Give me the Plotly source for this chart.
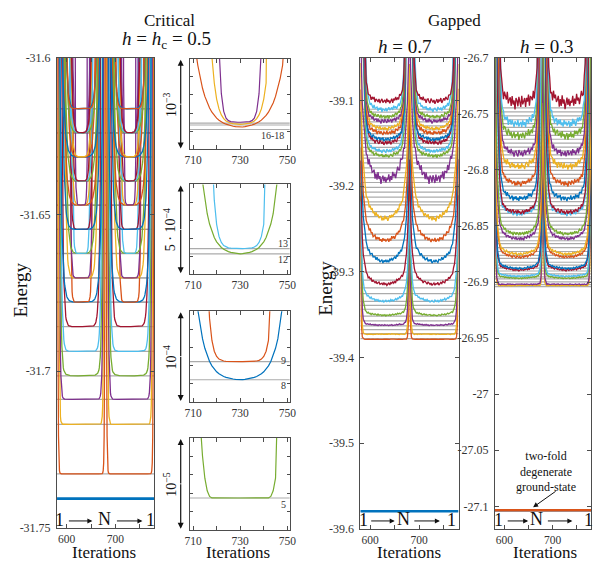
import numpy as np
import plotly.graph_objects as go

W, H = 598, 565
PALETTE = ["#0072BD", "#D95319", "#EDB120", "#7E2F8E", "#77AC30", "#4DBEEE", "#A2142F"]
GRAY = "rgba(150,150,150,0.8)"
SERIF = "Liberation Serif, serif"
AXIS_COLOR = "#4d4d4d"

# ---------------- sweep geometry ----------------
WALLS = [580, 680, 780]          # chain ends reached by the sweep 1 -> N -> 1
HALF = 50.0                      # half a sweep, in iterations

# ---------------- critical chain, h = hc = 0.5 ----------------
crit_E = [-31.7407, -31.7328, -31.7170, -31.7090, -31.7015, -31.6937, -31.6858,
          -31.67800, -31.67798, -31.6703, -31.67028, -31.66250, -31.66247,
          -31.6548, -31.65478, -31.64710, -31.64705, -31.64703,
          -31.6394, -31.63938, -31.63936, -31.6317, -31.63168, -31.63166,
          -31.6240, -31.62398, -31.62396, -31.62394, -31.6163, -31.61628]
crit_dw = [0, 5, 8, 11, 14, 17, 21, 22.3, 32.7, 27, 33, 30.9, 37.1, 34, 25,
           30.4, 37.4, 40.8, 31, 35, 38, 27, 33, 37, 39, 32, 35, 38, 29, 27]
crit_s = [0, 0.8, 1.1, 1.5, 1.9, 2.3, 2.6, 3.8, 1.41, 2.8, 1.5, 3.45, 1.45, 1.8, 3.5,
          4.4, 2.05, 1.04, 4.0, 2.5, 2.0, 4.5, 3.5, 2.5, 2.0, 4.0, 3.0, 2.5, 3.5, 2.5]
crit_resid = {16: 2.5e-5, 17: 0.7e-5, 18: 1.0e-5}
crit_bowl = {5: (5e-8, 38.5, 3.0)}

# zoomed windows around the bottom of the second sweep
inset_levels = [[16, 17, 18], [12, 13], [8, 9], [5]]
inset_span = [1e-3, 5e-4, 1e-4, 1e-5]
inset_floor = [2.19e-4, 1.13e-4, 2.45e-5, 3.46e-6]   # distance of axis bottom below first listed level
inset_scale = ["10<sup>\u22123</sup>", "5 \u00b7 10<sup>\u22124</sup>", "10<sup>\u22124</sup>", "10<sup>\u22125</sup>"]
inset_tags = [["16-18"], ["13", "12"], ["9", "8"], ["5"]]

# ---------------- gapped chain, h = 0.7 ----------------
g7_E = [-39.5795, -39.3790, -39.3733, -39.3631, -39.3517, -39.3358, -39.3164,
        -39.2902, -39.2663, -39.2412, -39.1990, -39.1672, -39.1615, -39.1524,
        -39.1478, -39.1410, -39.1353, -39.1273, -39.1216, -39.1136, -39.1045]
g7_dw = [0, 5, 7, 9, 12, 14, 17, 20, 21, 22, 23, 20, 21, 22, 20, 21, 22, 20, 21, 22, 19]
g7_s = [0, 1.0, 1.3, 1.8, 2.4, 3.0, 3.5, 4.0, 4.2, 4.4, 4.6, 3.0, 3.0, 3.0, 3.0, 3.0, 3.0, 2.8, 2.8, 2.8, 2.5]
g7_noise = [0, 0.0005, 0.001, 0.0015, 0.002, 0.003, 0.004, 0.005, 0.006, 0.007, 0.013,
            0.005, 0.005, 0.006, 0.005, 0.006, 0.005, 0.006, 0.005, 0.006, 0.007]
g7_bowl = [0, 0, 0, 0.001, 0.002, 0.004, 0.006, 0.009, 0.010, 0.012, 0.014,
           0.005, 0.005, 0.005, 0.005, 0.005, 0.005, 0.005, 0.005, 0.005, 0.005]
g7_exact = [-39.5795, -39.3779, -39.3722, -39.3676, -39.3631, -39.3574, -39.3517, -39.3437,
            -39.3392, -39.3346, -39.3255, -39.3187, -39.3096, -39.3004, -39.2902, -39.2811,
            -39.2720, -39.2629, -39.2560, -39.2446, -39.2355, -39.2298, -39.2219, -39.2184,
            -39.2127, -39.2070, -39.2013, -39.1957, -39.1900, -39.1843, -39.1786, -39.1729,
            -39.1672, -39.1638, -39.1592, -39.1547, -39.1501, -39.1467, -39.1433, -39.1387,
            -39.1341, -39.1296, -39.1250, -39.1216, -39.1182, -39.1136, -39.1102]

# ---------------- gapped chain, h = 0.3 ----------------
g3_E = [-27.1035, -27.1035, -26.9035, -26.9024, -26.8972, -26.8954, -26.8902,
        -26.8888, -26.8790, -26.8763, -26.8632, -26.8589, -26.8415, -26.8400,
        -26.8284, -26.8150, -26.8005, -26.7890, -26.7736, -26.7630, -26.7466]
g3_dw = [0, 0, 5, 6, 8, 9, 11, 12, 14, 15, 17, 18, 19, 20, 20, 21, 21, 21, 21, 21, 19]
g3_s = [0, 0, 1.0, 1.1, 1.6, 1.8, 2.3, 2.5, 2.9, 3.1, 3.3, 3.3, 3.1, 3.1, 2.9, 2.9, 2.7, 2.7, 2.5, 2.5, 2.2]
g3_noise = [0, 0, 0.0008, 0.0008, 0.0012, 0.0012, 0.0018, 0.0018, 0.0025, 0.0025, 0.0035,
            0.0035, 0.0045, 0.0045, 0.0055, 0.0055, 0.007, 0.007, 0.008, 0.008, 0.013]
g3_bowl = [0, 0, 0, 0, 0.001, 0.001, 0.002, 0.002, 0.003, 0.003, 0.004, 0.004,
           0.004, 0.004, 0.005, 0.005, 0.005, 0.005, 0.005, 0.005, 0.006]
g3_exact = [-27.1035, -26.9041, -26.9024, -26.8998, -26.8972, -26.8954, -26.8928, -26.8902,
            -26.8876, -26.8850, -26.8824, -26.8789, -26.8763, -26.8728, -26.8693, -26.8658,
            -26.8632, -26.8597, -26.8563, -26.8528, -26.8493, -26.8458, -26.8423, -26.8388,
            -26.8354, -26.8319, -26.8284, -26.8249, -26.8214, -26.8180, -26.8145, -26.8110,
            -26.8075, -26.8040, -26.8005, -26.7971, -26.7936, -26.7901, -26.7866, -26.7831,
            -26.7797, -26.7762, -26.7727, -26.7692, -26.7657, -26.7622, -26.7588, -26.7553,
            -26.7518, -26.7483, -26.7448]

# DMRG scatter around the converged value (one entry per two iterations)
JITTER = [0.3, -0.5, 0.8, -0.2, 0.1, -0.9, 0.4, 0.6, -0.3, -0.7, 0.9, 0.2, -0.4, 0.5,
          -0.8, 0.0, 0.7, -0.6, 0.3, -0.1, 0.8, -0.9, 0.2, 0.4, -0.5, 0.6, -0.2, -0.8,
          0.5, 0.1, -0.3, 0.9, -0.6, 0.0, 0.4, -0.7, 0.7, -0.4, 0.2, -1.0, 0.6, 0.3,
          -0.5, 0.8, -0.1, -0.6, 0.9, -0.3, 0.1, 0.5, -0.8, 0.4, -0.2, 0.7, -0.9, 0.3,
          0.0, -0.5, 0.6, -0.7, 0.2, 0.8, -0.4, -0.1, 0.5, -0.6, 0.9, -0.2, 0.3, -0.8,
          0.1, 0.6, -0.9, 0.4, -0.3, 0.7, -0.5, 0.2, -0.7, 0.8, -0.1, 0.5, -0.4, 0.0,
          0.6, -0.8, 0.3, -0.6, 0.9, -0.2, 0.4, -0.9, 0.1, 0.7, -0.3, 0.5, -0.5, 0.2,
          -0.1, 0.8, -0.6]

BOWL_REF = 20.0   # distance from a chain end at which the bowl amplitude is quoted


def dist_to_wall(it):
    return np.min(np.abs(it[:, None] - np.array(WALLS)[None, :]), axis=1).astype(float)


def sweep(it, level, dw, s, resid=0.0, bowl=None, noise=0.0, shift=0, bowl_amp=0.0):
    D = dist_to_wall(it)
    y = np.full(it.shape, level + resid, dtype=float)
    if s > 0:
        arg = np.minimum((dw - D) / s, 12.0)
        y += 1e-3 * (np.exp(arg) - np.exp((dw - HALF) / s))
    if bowl is not None:
        c, df, p = bowl
        y += c * np.maximum(df - D, 0.0) ** p
    if bowl_amp > 0:
        y += bowl_amp * ((HALF - D) / (HALF - BOWL_REF)) ** 2
    if noise > 0:
        idx = ((it - WALLS[0]) // 2 + shift) % len(JITTER)
        y += noise * (0.5 + 0.5 * np.array(JITTER)[idx])
    return y


def px_x(p):
    return p / W


def px_y(p):
    return 1 - p / H


fig = go.Figure()

panels = {
    1: ((53, 152), (52, 534)),
    2: ((188, 290), (53, 146)),
    3: ((188, 290), (182, 274)),
    4: ((188, 290), (312, 405)),
    5: ((188, 290), (442, 536)),
    6: ((362, 462), (52, 535)),
    7: ((499, 597), (52, 535)),
}


def axname(i, a):
    return a if i == 1 else f"{a}{i}"


def gray_lines(vals, x0, x1, ax):
    xs, ys = [], []
    for v in vals:
        xs += [x0, x1, None]
        ys += [v, v, None]
    fig.add_trace(go.Scatter(x=xs, y=ys, mode="lines", line=dict(color=GRAY, width=1.2),
                             hoverinfo="skip", showlegend=False, xaxis=axname(ax, "x"), yaxis=axname(ax, "y")))


def curve(x, y, k, ax, width=1.3):
    fig.add_trace(go.Scatter(x=x, y=y, mode="lines", line=dict(color=PALETTE[k % 7], width=width),
                             hoverinfo="skip", showlegend=False, xaxis=axname(ax, "x"), yaxis=axname(ax, "y")))


# ---- critical main panel ----
it1 = np.arange(580, 781)
gray_lines(crit_E, 580, 780, 1)
for k, E in enumerate(crit_E):
    n = k + 1
    y = sweep(it1, E, crit_dw[k], crit_s[k], crit_resid.get(n, 0.0), crit_bowl.get(n))
    curve(it1, y, k, 1, width=2.6 if n == 1 else 1.3)

# ---- insets ----
it_in = np.arange(700, 761)
for j, lv in enumerate(inset_levels):
    ax = j + 2
    gray_lines([crit_E[n - 1] for n in lv], 700, 760, ax)
    for n in lv:
        k = n - 1
        y = sweep(it_in, crit_E[k], crit_dw[k], crit_s[k], crit_resid.get(n, 0.0), crit_bowl.get(n))
        curve(it_in, y, k, ax, width=1.2)

# ---- gapped panels ----
it2 = np.arange(580, 781, 2)
gray_lines(g7_exact, 580, 780, 6)
for k, E in enumerate(g7_E):
    y = sweep(it2, E, g7_dw[k], g7_s[k], noise=g7_noise[k], shift=7 * k, bowl_amp=g7_bowl[k])
    curve(it2, y, k, 6, width=2.6 if k == 0 else 1.3)

gray_lines(g3_exact, 580, 780, 7)
for k, E in enumerate(g3_E):
    y = sweep(it2, E, g3_dw[k], g3_s[k], noise=g3_noise[k], shift=11 * k, bowl_amp=g3_bowl[k])
    curve(it2, y, k, 7, width=2.6 if k < 2 else 1.3)

# ---------------- axes ----------------
base = dict(showline=True, linecolor=AXIS_COLOR, linewidth=1, mirror="ticks", ticks="inside",
            ticklen=4, tickcolor=AXIS_COLOR, showgrid=False, zeroline=False,
            tickfont=dict(family=SERIF, size=12, color="#333"))

yranges = {
    1: [-31.75, -31.6],
    6: [-39.6, -39.05],
    7: [-27.12, -26.7],
}
yticks = {
    1: ([-31.75, -31.7, -31.65, -31.6], ["-31.75", "-31.7", "-31.65", "-31.6"]),
    6: ([-39.6, -39.5, -39.4, -39.3, -39.2, -39.1], ["-39.6", "-39.5", "-39.4", "-39.3", "-39.2", "-39.1"]),
    7: ([-27.1, -27.05, -27.0, -26.95, -26.9, -26.85, -26.8, -26.75, -26.7],
        ["-27.1", "-27.05", "-27", "-26.95", "-26.9", "-26.85", "-26.8", "-26.75", "-26.7"]),
}
for i, ((x0, x1), (y0, y1)) in panels.items():
    xa = dict(base, domain=[px_x(x0), px_x(x1)], anchor=axname(i, "y"), ticklabelstandoff=0,
              tickfont=dict(family=SERIF, size=11.5, color="#333"))
    ya = dict(base, domain=[px_y(y1), px_y(y0)], anchor=axname(i, "x"), ticklabelstandoff=3)
    if i in (1, 6, 7):
        xa.update(range=[580, 780], tickvals=[600, 650, 700, 750], ticktext=["600", "", "700", ""])
        ya.update(range=yranges[i], tickvals=yticks[i][0], ticktext=yticks[i][1])
    else:
        j = i - 2
        ref = crit_E[inset_levels[j][0] - 1]
        lo = ref - inset_floor[j]
        hi = lo + inset_span[j]
        xa.update(range=[708.5, 751], tickvals=[710, 720, 730, 740, 750],
                  ticktext=["710", "", "730", "", "750"])
        ya.update(range=[lo, hi], tickvals=[lo + inset_span[j] * f for f in (0.2, 0.4, 0.6, 0.8)],
                  ticktext=["", "", "", ""], ticklen=3)
    fig.layout["xaxis" if i == 1 else f"xaxis{i}"] = xa
    fig.layout["yaxis" if i == 1 else f"yaxis{i}"] = ya

# ---------------- text ----------------
ann = []


def text(x, y, s, size, angle=0, color="#111", xanchor="center"):
    ann.append(dict(x=px_x(x), y=px_y(y), xref="paper", yref="paper", text=s, showarrow=False,
                    font=dict(family=SERIF, size=size, color=color), textangle=angle,
                    xanchor=xanchor, yanchor="middle"))


def arrow(x0, y0, x1, y1, head=2, width=1.0, size=1.0):
    ann.append(dict(x=px_x(x1), y=px_y(y1), xref="paper", yref="paper", ax=x0 - x1, ay=y0 - y1,
                    axref="pixel", ayref="pixel", text="", showarrow=True, arrowhead=head,
                    arrowsize=size, arrowwidth=width, arrowcolor="#111"))


text(168, 14, "Critical", 17)
text(165, 34, "<i>h</i> = <i>h</i><sub>c</sub> = 0.5", 19)
text(458, 14, "Gapped", 17)
text(407, 41, "<i>h</i> = 0.7", 19)
text(552, 41, "<i>h</i> = 0.3", 19)

text(16, 290, "Energy", 19, angle=-90)
text(327, 288, "Energy", 19, angle=-90)
for xc in (101, 237, 412, 550):
    text(xc, 559, "Iterations", 17)

# 1 -> N -> 1 markers along the sweep
for (l1, a0, a1, nx, b0, b1, r1) in [(56, 64, 89, 101, 113, 140, 148),
                                     (365, 372, 397, 406, 416, 443, 455),
                                     (503, 511, 533, 541, 552, 578, 594)]:
    text(l1, 526, "1", 18)
    text(nx, 525, "N", 18)
    text(r1, 526, "1", 18)
    arrow(a0, 527, a1, 527, head=2, width=1.0, size=1.0)
    arrow(b0, 527, b1, 527, head=2, width=1.0, size=1.0)

# inset scale bars
for j, i in enumerate((2, 3, 4, 5)):
    y0, y1 = panels[i][1]
    mid = 0.5 * (y0 + y1)
    arrow(179, mid, 179, y0 + 1, head=2, width=1.2, size=1.0)
    arrow(179, mid, 179, y1 - 1, head=2, width=1.2, size=1.0)
    text(168, mid, inset_scale[j], 14, angle=-90)

# level tags inside insets
tag_pos = [[(273, 132)], [(283, 243), (283, 259)], [(284, 362), (284, 388)], [(284, 510)]]
for j, tags in enumerate(tag_pos):
    for lab, (tx, ty) in zip(inset_tags[j], tags):
        text(tx, ty, lab, 10, color="#333")

# ground-state note
text(551, 476, "two-fold<br>degenerate<br>ground-state", 12)
arrow(562, 496, 538, 513, head=2, width=1.0, size=1.0)

fig.update_layout(width=W, height=H, margin=dict(l=0, r=0, t=0, b=0),
                  paper_bgcolor="white", plot_bgcolor="white", annotations=ann,
                  showlegend=False)

fig.write_html("out.html")
